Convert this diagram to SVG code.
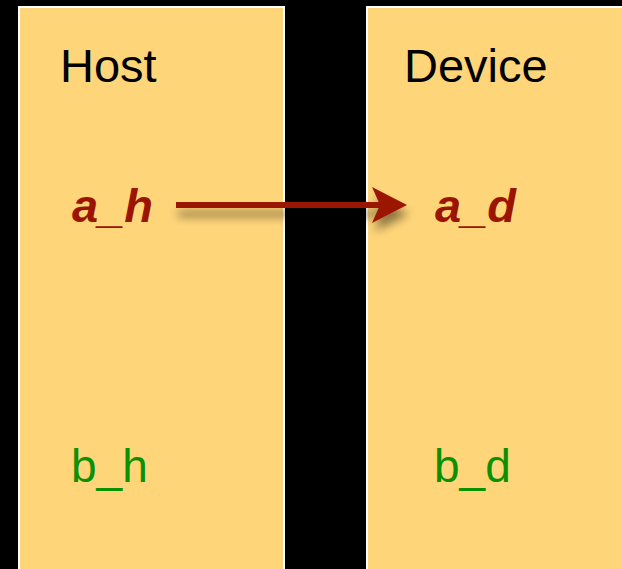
<svg xmlns="http://www.w3.org/2000/svg" width="622" height="569" viewBox="0 0 622 569">
<style>
.box{fill:#FFD579;stroke:#FFFFFF;stroke-width:2}
.title{font-family:"Liberation Sans",Arial,sans-serif;font-size:47px;fill:#000}
.var{font-family:"Liberation Sans",Arial,sans-serif;font-size:47px;font-weight:bold;font-style:italic;fill:#9A1400}
.gvar{font-family:"Liberation Sans",Arial,sans-serif;font-size:46px;fill:#0A9000}
</style>
<defs>
<filter id="sh" x="-20%" y="-100%" width="140%" height="400%">
<feGaussianBlur in="SourceAlpha" stdDeviation="5"/>
<feOffset dx="2" dy="9" result="b"/>
<feComponentTransfer><feFuncA type="linear" slope="0.45"/></feComponentTransfer>
<feMerge><feMergeNode/><feMergeNode in="SourceGraphic"/></feMerge>
</filter>
</defs>
<rect width="622" height="569" fill="#000"/>
<g id="host">
<rect class="box" x="19" y="7" width="265" height="570"/>
<text class="title" x="60" y="82">Host</text>
<text class="var" x="72" y="222">a_h</text>
<text class="gvar" x="71" y="482">b_h</text>
</g>
<g id="device">
<rect class="box" x="367" y="7" width="270" height="570"/>
<text class="title" x="404" y="82">Device</text>
<text class="var" x="435" y="222">a_d</text>
<text class="gvar" x="434" y="482">b_d</text>
</g>
<g id="connectors" filter="url(#sh)">
<line x1="176" y1="205" x2="380" y2="205" stroke="#9A1400" stroke-width="6"/>
<polygon points="372,187 407,205 372,223 380,205" fill="#9A1400"/>
</g>
</svg>
